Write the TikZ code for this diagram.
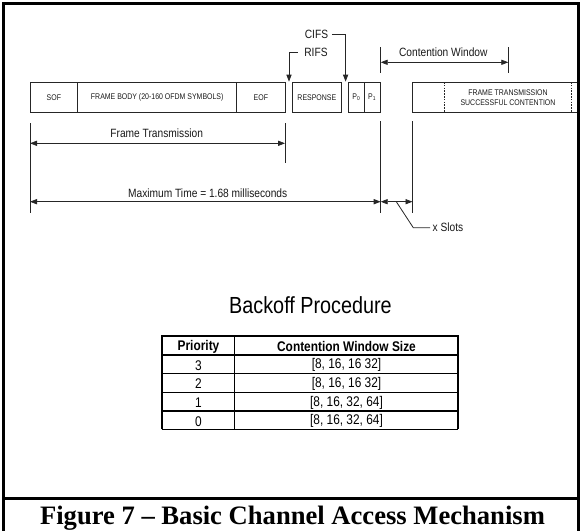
\documentclass[tikz,border=0pt]{standalone}
\usepackage{fontspec}
\setmainfont{Liberation Sans}
\newfontfamily\narrow[FakeStretch=0.85]{Liberation Sans}
\newfontfamily\capfont{Liberation Serif}
\usetikzlibrary{arrows.meta}

\begin{document}
\begin{tikzpicture}[x=1pt,y=-1pt,
  ln/.style={line width=0.8pt, draw=black!85},
  dim/.style={ln, {Triangle[length=7pt,width=5.2pt]}-{Triangle[length=7pt,width=5.2pt]}},
  lbl/.style={font=\narrow\fontsize{12}{14}\selectfont, inner sep=0pt, text=black!90},
  small/.style={font=\narrow\fontsize{8.2}{10}\selectfont, inner sep=0pt, align=center, text=black!90},
  slot/.style={ln, draw, minimum height=30.7pt, inner sep=0pt, font=\narrow\fontsize{8.2}{10}\selectfont, text=black!90},
  cell/.style={font=\narrow\fontsize{14}{16}\selectfont, inner sep=0pt, text=black},
  head/.style={font=\narrow\bfseries\fontsize{14}{16}\selectfont, inner sep=0pt, text=black},
  rule/.style={line width=0.9pt, draw=black},
  thick rule/.style={line width=2.2pt, draw=black}
]
\useasboundingbox (0,0) rectangle (582,531);

% outer frame and caption separator
\draw[line width=2.6pt] (3.3,532) -- (3.3,3.3) -- (578.6,3.3) -- (578.6,532);
\draw[line width=2.4pt] (3.3,498.5) -- (578.6,498.5);

% frame slots
\node[slot, minimum width=47.7pt]  (sof)  at (53.85,97.35)  {SOF};
\node[slot, minimum width=159pt]   (body) at (157.2,97.35)  {FRAME BODY (20-160 OFDM SYMBOLS)};
\node[slot, minimum width=48.3pt]  (eof)  at (260.85,97.35) {EOF};
\node[slot, minimum width=48.3pt]  (resp) at (316.85,97.35) {RESPONSE};
\node[slot, minimum width=16pt]    (pz)   at (356.3,97.35)  {P\textsubscript{0}};
\node[slot, minimum width=15.7pt]  (po)   at (372.15,97.35) {P\textsubscript{1}};

% next frame after contention
\draw[ln] (577,82) -- (412.5,82) -- (412.5,112.7) -- (577,112.7);
\draw[ln, dash pattern=on 1.6pt off 1.2pt, line width=0.6pt] (444.3,82) -- (444.3,112.7);
\draw[ln, dash pattern=on 1.6pt off 1.2pt, line width=0.6pt] (571.7,82) -- (571.7,112.7);
\node[small] (next) at (508,97.7) {FRAME TRANSMISSION\\[-0.6pt]SUCCESSFUL CONTENTION};

% interframe spaces
\node[lbl] (cifs) at (316.5,34) {CIFS};
\node[lbl] (rifs) at (316,52.3) {RIFS};
\coordinate (cifsA) at (345.6,81.6);
\coordinate (rifsA) at (289,81.6);
\draw[ln, -{Triangle[length=7pt,width=5.2pt]}] ([xshift=3.5pt]cifs.east) -| (cifsA);
\draw[ln, -{Triangle[length=7pt,width=5.2pt]}] ([xshift=-6.5pt]rifs.west) -| (rifsA);

% extension lines
\draw[ln] (30,123) -- (30,212.7);
\draw[ln] (285,123) -- (285,162.7);
\draw[ln] (380.7,121.3) -- (380.7,212.7);
\draw[ln] (412.5,121.3) -- (412.5,212.7);
\draw[ln] (380.7,47) -- (380.7,72.7);
\draw[ln] (508.3,47) -- (508.3,72.7);

% dimension arrows
\coordinate (cwL) at (380.7,62.3);
\coordinate (cwR) at (508.3,62.3);
\coordinate (ftL) at (30,143.3);
\coordinate (ftR) at (285,143.3);
\coordinate (mtL) at (30,201.7);
\coordinate (mtR) at (380.7,201.7);
\coordinate (xsR) at (412.5,201.7);
\draw[dim] (cwL) -- (cwR);
\draw[dim] (ftL) -- (ftR);
\draw[dim] (mtL) -- (mtR);
\draw[dim] (mtR) -- (xsR);

\node[lbl] (cw) at (443.3,52.3) {Contention Window};
\node[lbl] (ft) at (156.7,133.3) {Frame Transmission};
\node[lbl] (mt) at (207.7,193.3) {Maximum Time = 1.68 milliseconds};

% slot leader
\node[lbl, anchor=west] (xs) at (432.5,227.7) {x Slots};
\coordinate (xsP) at (396.3,201.7);
\coordinate (xsK) at (413.3,227.7);
\draw[ln] (xsP) -- (xsK) -- ([xshift=-2.5pt]xs.west);

% backoff table
\node[font=\narrow\fontsize{23.3}{26}\selectfont, inner sep=0pt] (bt) at (310.5,305) {Backoff Procedure};

\draw[rule] (234.8,336) -- (234.8,429.3);
\draw[rule] (162.3,373.3) -- (458,373.3);
\draw[rule] (162.3,392) -- (458,392);
\draw[line width=1.5pt] (162.3,410.8) -- (458,410.8);
\draw[line width=1.7pt] (162.3,354.7) -- (458,354.7);
\draw[line width=1.4pt] (162.3,429.3) -- (458,429.3);
\draw[line width=1.8pt] (458,429.3) -- (458,336);
\draw[line width=2.2pt] (162.3,429.3) -- (162.3,336);
\draw[thick rule] (161.2,336) -- (459,336);

\node[head] (h1) at (198.5,346.6) {Priority};
\node[head] (h2) at (346.5,346.6) {Contention Window Size};
\node[cell] (p3) at (198.5,365.3) {3};
\node[cell] (w3) at (346.5,365.3) {[8, 16, 16 32]};
\node[cell] (p2) at (198.5,384) {2};
\node[cell] (w2) at (346.5,384) {[8, 16, 16 32]};
\node[cell] (p1) at (198.5,402.6) {1};
\node[cell] (w1) at (346.5,402.6) {[8, 16, 32, 64]};
\node[cell] (p0) at (198.5,421.3) {0};
\node[cell] (w0) at (346.5,421.3) {[8, 16, 32, 64]};

% caption
\node[anchor=base, inner sep=0pt, font=\capfont\bfseries\fontsize{26.6}{30}\selectfont] (cap) at (292.5,524) {Figure 7 – Basic Channel Access Mechanism};
\end{tikzpicture}
\end{document}
